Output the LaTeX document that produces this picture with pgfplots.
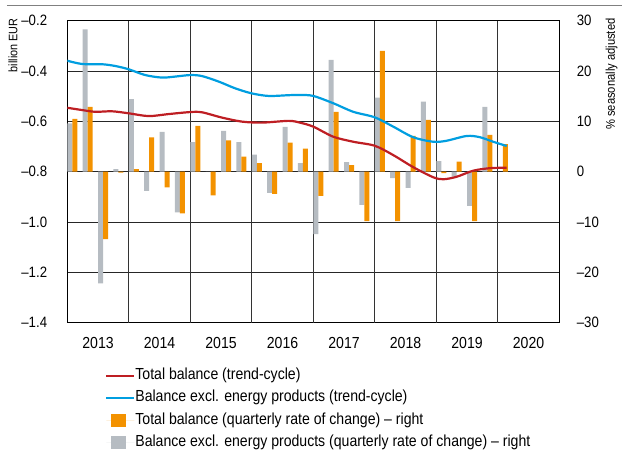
\documentclass[border=0pt]{standalone}
\usepackage{fontspec}
\setmainfont{Liberation Sans}[FakeStretch=0.88]
\usepackage{pgfplots}
\pgfplotsset{compat=1.18}
\definecolor{cOrange}{RGB}{243,146,0}
\definecolor{cGrey}{RGB}{182,188,194}
\definecolor{cRed}{RGB}{190,30,35}
\definecolor{cBlue}{RGB}{0,158,224}

\pgfplotstableread{
q grey
0 9.6
1 28.3
2 -22.2
3 0.5
4 14.4
5 -3.8
6 7.9
7 -8.1
8 5.9
9 0
10 8.1
11 5.9
12 3.4
13 -4.2
14 8.9
15 1.7
16 -12.4
17 22.2
18 1.9
19 -6.6
20 14.7
21 -1.3
22 -3.2
23 13.9
24 2.1
25 -1.0
26 -6.8
27 12.9
}\greytab

\pgfplotstableread{
q orange
0 10.5
1 12.9
2 -13.4
3 -0.2
4 0.5
5 6.8
6 -3.1
7 -8.3
8 9.1
9 -4.7
10 6.2
11 3.0
12 1.7
13 -4.4
14 5.8
15 4.6
16 -4.8
17 11.9
18 1.3
19 -9.8
20 24.0
21 -9.8
22 7.1
23 10.3
24 -0.3
25 2.0
26 -9.8
27 7.3
28 5.5
}\orangetab

\pgfplotstableread{
x total
0 -0.546
0.96 -0.555
1.82 -0.562
2.91 -0.560
4 -0.568
5.29 -0.579
6.59 -0.571
8 -0.563
8.76 -0.564
10.06 -0.585
11.36 -0.601
12.66 -0.605
14.4 -0.598
15.13 -0.605
16 -0.621
17.3 -0.661
18.6 -0.681
20 -0.697
21.2 -0.734
22.5 -0.782
23.8 -0.822
24.46 -0.830
25.33 -0.820
26.4 -0.796
27.49 -0.786
28.58 -0.784
}\redtab

\pgfplotstableread{
x excl
0 -0.359
0.96 -0.372
2.26 -0.373
3.12 -0.380
3.99 -0.393
5.07 -0.416
6.16 -0.426
7.02 -0.422
8 -0.416
8.76 -0.420
9.85 -0.442
10.93 -0.469
12.01 -0.489
13.1 -0.499
14.4 -0.496
15.13 -0.495
16 -0.499
17.3 -0.528
18.6 -0.562
20 -0.584
21.2 -0.621
22.5 -0.663
23.8 -0.681
24.67 -0.677
25.98 -0.658
26.84 -0.663
27.7 -0.681
28.58 -0.698
}\bluetab

\begin{document}
\begin{tikzpicture}
\useasboundingbox (-67.3pt,-127.3pt) rectangle (554.7pt,322.7pt);
\draw[black!50, line width=0.8pt] (-60.3pt,317pt) -- (554.7pt,317pt);
% bar axis (right)
\begin{axis}[
 at={(0pt,0pt)}, anchor=south west,
 width=492pt, height=302pt, scale only axis,
 xmin=0, xmax=32, ymin=-30, ymax=30,
 ytick={-30,-20,-10,0,10,20,30},
 yticklabels={–30,–20,–10,0,10,20,30},
 yticklabel pos=right,
 xtick={2,6,10,14,18,22,26,30},
 xticklabels={2013,2014,2015,2016,2017,2018,2019,2020},
 extra x ticks={4,8,12,16,20,24,28},
 extra x tick labels={},
 extra x tick style={grid=major, major grid style={black!80, line width=0.9pt}},
 ymajorgrids, grid style={black!85, line width=0.9pt},
 major tick length=0pt,
 axis line style={black, line width=0.9pt},
 xticklabel style={font=\fontsize{16}{18}\selectfont, inner sep=0pt, anchor=north, yshift=-14.6pt},
 yticklabel style={font=\fontsize{15}{17}\selectfont, inner sep=0pt, anchor=west, xshift=17.4pt},
 ylabel={\% seasonally adjusted},
 every axis y label/.style={at={(axis description cs:1,1)}, xshift=52.2pt, yshift=2.4pt, rotate=90, anchor=east, inner sep=0pt, font=\fontsize{12.7}{15}\selectfont},
]
\addplot[ybar, bar width=0.325, bar shift=0.163, fill=cGrey, draw=none] table[x=q, y=grey] {\greytab};
\addplot[ybar, bar width=0.325, bar shift=0.488, fill=cOrange, draw=none] table[x=q, y=orange] {\orangetab};
\end{axis}
% line axis (left)
\begin{axis}[
 at={(0pt,0pt)}, anchor=south west,
 width=492pt, height=302pt, scale only axis,
 xmin=0, xmax=32, ymin=-1.4, ymax=-0.2,
 xtick=\empty,
 ytick={-1.4,-1.2,-1.0,-0.8,-0.6,-0.4,-0.2},
 yticklabels={–1.4,–1.2,–1.0,–0.8,–0.6,–0.4,–0.2},
 yticklabel pos=left,
 major tick length=0pt,
 axis line style={draw=none},
 yticklabel style={font=\fontsize{15}{17}\selectfont, inner sep=0pt, anchor=east, xshift=-20pt},
 ylabel={billion EUR},
 every axis y label/.style={at={(axis description cs:0,1)}, xshift=-54.3pt, yshift=2.4pt, rotate=90, anchor=east, inner sep=0pt, font=\fontsize{12.3}{15}\selectfont},
 legend cell align=left,
 legend style={at={(axis description cs:0.0766,-0.15)}, anchor=north west, draw=none, fill=none,
   inner xsep=0pt, inner ysep=0pt, row sep=7.2pt,
   nodes={inner sep=0pt, text height=11.5pt, text depth=3.5pt},
   font=\fontsize{16}{18}\selectfont},
 linelegend/.style={legend image code/.code={\draw[##1, line width=2.2pt] (0pt,0pt) -- (21.5pt,0pt); \path (0pt,0pt) -- (28pt,0pt);}},
 barlegend/.style={legend image code/.code={\fill[##1] (5pt,-6.5pt) rectangle (20pt,6.5pt); \path (0pt,0pt) -- (28pt,0pt);}},
]
\addplot[cRed, line width=2.2pt, smooth, tension=0.5, linelegend] table[x=x, y=total] {\redtab};
\addlegendentry{Total balance (trend-cycle)}
\addplot[cBlue, line width=2.2pt, smooth, tension=0.5, linelegend] table[x=x, y=excl] {\bluetab};
\addlegendentry{Balance excl. energy products (trend-cycle)}
\addlegendimage{barlegend, fill=cOrange, draw=none}
\addlegendentry{Total balance (quarterly rate of change) – right}
\addlegendimage{barlegend, fill=cGrey, draw=none}
\addlegendentry{Balance excl. energy products (quarterly rate of change) – right}
\end{axis}
\end{tikzpicture}
\end{document}
